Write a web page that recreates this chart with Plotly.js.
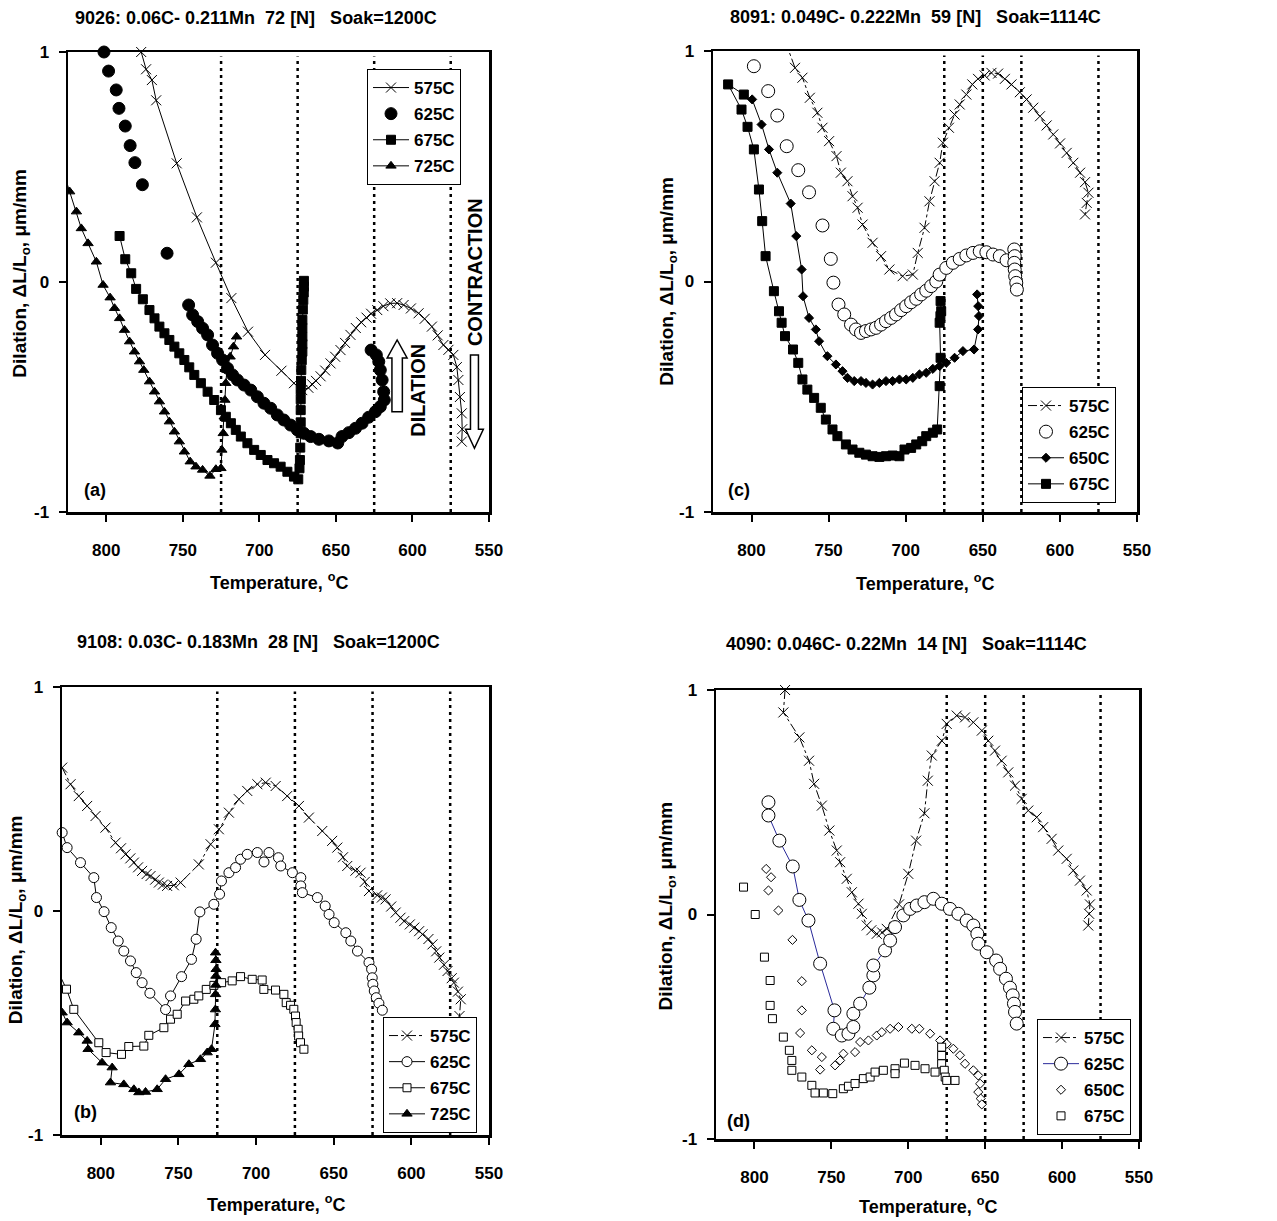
<!DOCTYPE html>
<html>
<head>
<meta charset="utf-8">
<script src="https://cdn.plot.ly/plotly-3.0.1.min.js"></script>
<style>html,body{margin:0;padding:0;background:#fff}#chart{width:1277px;height:1221px}</style>
</head>
<body>
<div id="chart"></div>
<script>
// ---------------- DATA: [temperature (C), dilation (um/mm)] ----------------
const X_TICKS = [800, 750, 700, 650, 600, 550];
const Y_TICKS = [-1, 0, 1];
const Y_TICKTEXT = ['-1', '0', '1'];

const TITLES = {
  a: '9026: 0.06C- 0.211Mn  72 [N]   Soak=1200C',
  c: '8091: 0.049C- 0.222Mn  59 [N]   Soak=1114C',
  b: '9108: 0.03C- 0.183Mn  28 [N]   Soak=1200C',
  d: '4090: 0.046C- 0.22Mn  14 [N]   Soak=1114C'
};
const TEMPS_AB = [725, 675, 625, 575];
const TEMPS_CD = [675, 650, 625, 575];

// Panel (a)
const A575 = [[777.2,1.0],[774,0.925],[770.2,0.878],[767.4,0.79],[754,0.516],[740.8,0.281],[728.4,0.084],[718.3,-0.07],[707.4,-0.216],[696.3,-0.317],[685.6,-0.386],[677.4,-0.44],[672,-0.47],[668,-0.46],[665.5,-0.445],[663,-0.43],[660,-0.41],[657,-0.385],[653.5,-0.354],[650.5,-0.325],[647,-0.296],[644,-0.265],[640.5,-0.23],[637,-0.2],[633.5,-0.175],[630,-0.155],[627,-0.138],[623,-0.122],[619,-0.105],[614.5,-0.093],[610,-0.092],[605.8,-0.1],[601,-0.115],[596,-0.136],[592,-0.16],[587.3,-0.194],[583.5,-0.232],[579.8,-0.274],[576.5,-0.295],[573.3,-0.317],[571,-0.37],[570,-0.426],[569,-0.5],[567.8,-0.571],[567.5,-0.64],[567.8,-0.694]];
const A625 = [[801.5,1.0],[798.5,0.917],[793.5,0.835],[791.7,0.755],[787.6,0.678],[784.4,0.593],[781.3,0.519],[776.4,0.423],[760.3,0.125],[746.2,-0.1],[743.6,-0.143],[740.3,-0.172],[737.1,-0.201],[733.8,-0.23],[730.6,-0.274],[727.3,-0.31],[724,-0.339],[720.8,-0.375],[717.5,-0.404],[714.3,-0.426],[710,-0.448],[705.6,-0.47],[701.3,-0.499],[697,-0.527],[692.6,-0.549],[688.3,-0.578],[684,-0.6],[679.6,-0.622],[675.2,-0.643],[670.9,-0.658],[666.5,-0.672],[661.1,-0.684],[654.6,-0.691],[648.8,-0.70],[646,-0.672],[641.6,-0.655],[637.2,-0.636],[632.9,-0.614],[628.6,-0.588],[624.2,-0.564],[621,-0.542],[618.4,-0.513],[618.8,-0.477],[619.8,-0.426],[621,-0.383],[622,-0.346],[623.6,-0.317],[627,-0.296]];
const A675 = [[791.3,0.2],[787.6,0.099],[783.7,0.038],[780.5,-0.03],[776.1,-0.075],[771.8,-0.122],[768.5,-0.158],[765.3,-0.194],[762,-0.223],[758.8,-0.252],[755.5,-0.281],[752.3,-0.31],[749,-0.339],[745.8,-0.371],[742.5,-0.404],[738.2,-0.44],[733.8,-0.477],[729.5,-0.513],[725.1,-0.557],[721.9,-0.586],[718.6,-0.614],[715.4,-0.643],[712.1,-0.672],[707.8,-0.701],[703.4,-0.73],[699.1,-0.752],[694.7,-0.774],[690.4,-0.788],[686.1,-0.803],[681.7,-0.825],[677.4,-0.846],[674.6,-0.858],[673.8,-0.81],[673.5,-0.774],[673.3,-0.72],[673,-0.658],[673,-0.61],[673,-0.557],[673,-0.51],[673,-0.47],[672.8,-0.43],[672.6,-0.383],[672.3,-0.34],[671.9,-0.303],[671.9,-0.27],[671.9,-0.238],[671.9,-0.2],[671.9,-0.165],[671.6,-0.12],[671.3,-0.078],[671,-0.045],[670.9,-0.02],[670.9,0.005]];
const A725 = [[830,0.52],[823.9,0.393],[819.5,0.306],[816.3,0.233],[811.9,0.168],[806.5,0.088],[802.1,-0.013],[797.5,-0.068],[794.6,-0.114],[791.3,-0.158],[788.1,-0.209],[784.8,-0.259],[781.6,-0.303],[778.3,-0.346],[775.5,-0.383],[771.8,-0.433],[768.5,-0.477],[765.3,-0.52],[762,-0.564],[758.8,-0.607],[755.5,-0.651],[752.3,-0.694],[749,-0.738],[745.2,-0.781],[741.4,-0.803],[737.1,-0.817],[732.3,-0.843],[728.4,-0.814],[725.1,-0.81],[724.5,-0.73],[723.6,-0.658],[723,-0.586],[722.5,-0.513],[721.9,-0.44],[721.2,-0.383],[719.1,-0.325],[716.9,-0.281],[714.9,-0.238]];

// Panel (c)
const C575 = [[778,1.04],[771.8,0.927],[767,0.884],[762.2,0.797],[757.3,0.732],[754,0.667],[749.7,0.609],[744.9,0.544],[742.1,0.472],[737.8,0.435],[734.5,0.37],[731.2,0.32],[728,0.247],[721.5,0.168],[716,0.11],[710.6,0.052],[702,0.023],[695.4,0.03],[692.2,0.124],[687.8,0.233],[684.6,0.348],[681.3,0.435],[678,0.515],[675.9,0.602],[672,0.667],[668.3,0.724],[665,0.768],[660.7,0.811],[656.8,0.855],[653.1,0.879],[648.8,0.894],[644.4,0.905],[640.1,0.902],[635.7,0.879],[631.4,0.855],[626,0.821],[621.6,0.79],[617.3,0.754],[612.9,0.717],[608.6,0.677],[604.3,0.638],[599.9,0.599],[595.6,0.558],[591.3,0.515],[586.9,0.472],[583.7,0.431],[581.5,0.385],[582.6,0.341],[583.7,0.291]];
const C625 = [[798.5,0.934],[789.2,0.826],[783.3,0.72],[777.2,0.587],[769.7,0.483],[762.7,0.387],[754,0.243],[748.6,0.098],[746.9,-0.005],[743.6,-0.1],[739.9,-0.143],[735.5,-0.187],[732.3,-0.208],[729,-0.223],[725.8,-0.215],[722.5,-0.208],[719.3,-0.201],[716,-0.187],[712.8,-0.172],[709.5,-0.158],[706.3,-0.143],[703,-0.124],[699.7,-0.107],[696.5,-0.09],[693.2,-0.075],[690,-0.056],[686.7,-0.04],[683.5,-0.02],[680.2,0.0],[678,0.03],[673.7,0.059],[669.4,0.081],[665,0.098],[660.7,0.113],[656.4,0.124],[652,0.131],[647.7,0.127],[643.4,0.117],[639,0.11],[634.6,0.092],[629.6,0.139],[629.3,0.11],[629.6,0.081],[629.3,0.052],[629,0.023],[628.3,-0.006],[627.9,-0.035]];
const C650 = [[799.6,0.79],[793.5,0.681],[788.7,0.573],[783.3,0.472],[774.6,0.338],[771,0.197],[767.5,0.052],[766.6,-0.064],[762.7,-0.158],[758.3,-0.208],[756.2,-0.259],[750.8,-0.324],[745.3,-0.36],[741,-0.389],[737.8,-0.418],[733.4,-0.432],[729,-0.432],[725.8,-0.44],[721.5,-0.447],[717.1,-0.44],[712.8,-0.432],[708.5,-0.432],[704.1,-0.425],[699.7,-0.425],[695.4,-0.418],[691.1,-0.403],[686.7,-0.396],[682.4,-0.379],[678,-0.367],[673.7,-0.353],[668.3,-0.331],[662.9,-0.302],[655.7,-0.295],[653.1,-0.208],[652.5,-0.15],[653,-0.107],[653.7,-0.056]];
const C675 = [[805,0.811],[815.2,0.855],[806.5,0.746],[802.6,0.671],[798.5,0.573],[795.2,0.399],[793.1,0.262],[790.9,0.11],[785.5,-0.042],[782.2,-0.129],[780.5,-0.179],[778.3,-0.237],[773.1,-0.295],[769.7,-0.353],[767,-0.425],[763.8,-0.469],[759.4,-0.505],[755.1,-0.548],[751.8,-0.599],[747.5,-0.642],[744.3,-0.671],[738.8,-0.707],[734.5,-0.729],[730.1,-0.743],[725.8,-0.751],[721.5,-0.758],[717.1,-0.761],[712.8,-0.758],[708.5,-0.755],[704.1,-0.758],[700.8,-0.729],[696.5,-0.722],[693.2,-0.707],[689.3,-0.693],[686.7,-0.671],[682.4,-0.656],[679.6,-0.642],[678,-0.454],[677.4,-0.331],[678,-0.179],[677.5,-0.15],[677,-0.129],[677.4,-0.085]];

// Panel (b)
const B575 = [[828,0.72],[824.9,0.64],[819.5,0.566],[814.2,0.513],[808.8,0.469],[803.4,0.424],[797,0.372],[790.5,0.305],[787,0.28],[784.1,0.253],[781,0.235],[778.7,0.216],[776,0.195],[773.4,0.179],[770.5,0.165],[768,0.156],[765,0.14],[762.6,0.127],[760,0.118],[757.3,0.112],[753,0.115],[748.6,0.127],[736.9,0.208],[729.3,0.298],[724,0.365],[717.5,0.439],[711.1,0.499],[705.7,0.536],[699.2,0.566],[693.8,0.573],[687.4,0.558],[680,0.513],[672.4,0.469],[666,0.417],[657.4,0.357],[651,0.313],[647.7,0.283],[644,0.24],[641.3,0.201],[636,0.18],[632.7,0.171],[630,0.13],[627.3,0.089],[622,0.07],[619,0.06],[616.6,0.052],[613,0.02],[610.1,-0.007],[607,-0.03],[604.6,-0.045],[601,-0.06],[598.1,-0.074],[595,-0.09],[592.8,-0.104],[589,-0.125],[586.4,-0.149],[584,-0.18],[582,-0.208],[579,-0.24],[576.7,-0.268],[574,-0.3],[572.6,-0.32],[570,-0.36],[568.2,-0.394],[569,-0.469]];
const B625 = [[824.9,0.35],[821.7,0.283],[813.1,0.216],[804.5,0.149],[802.8,0.06],[797.9,-0.003],[793.3,-0.074],[788.8,-0.134],[785.2,-0.179],[780.9,-0.223],[777.2,-0.275],[773.4,-0.32],[768.4,-0.367],[758.3,-0.44],[755.1,-0.379],[748,-0.293],[741.6,-0.216],[738.6,-0.126],[736.2,-0.004],[727.2,0.03],[723.5,0.075],[722.3,0.134],[717.5,0.171],[713.2,0.194],[710,0.231],[705.7,0.253],[699.2,0.261],[694.9,0.219],[691.7,0.261],[685.6,0.238],[684.1,0.201],[676.6,0.171],[671.2,0.149],[671.2,0.112],[670.2,0.082],[660.5,0.06],[655.5,0.022],[653,-0.015],[649.7,-0.052],[642.2,-0.097],[639,-0.134],[634.7,-0.179],[627.3,-0.23],[625.6,-0.26],[625.2,-0.298],[624.8,-0.327],[623.9,-0.357],[622.6,-0.387],[620.9,-0.412],[618.7,-0.443]];
const B675 = [[829,-0.25],[822.1,-0.349],[817.4,-0.439],[801.3,-0.588],[796.6,-0.632],[786.7,-0.64],[782,-0.605],[772.3,-0.603],[769.1,-0.555],[759.4,-0.521],[755.1,-0.483],[750.8,-0.461],[745.4,-0.402],[740.1,-0.394],[736.9,-0.379],[732.1,-0.35],[727.2,-0.332],[722.2,-0.32],[715.4,-0.312],[710,-0.293],[702.5,-0.305],[696.1,-0.308],[695,-0.35],[687.5,-0.353],[682.1,-0.372],[680.6,-0.409],[677.8,-0.421],[675.7,-0.439],[674.6,-0.469],[674.2,-0.498],[672.9,-0.528],[672.6,-0.558],[671.4,-0.588],[669.2,-0.617]];
const B725 = [[826.9,-0.424],[824.9,-0.454],[821.7,-0.498],[814.2,-0.543],[808.8,-0.58],[808.2,-0.617],[799.2,-0.677],[792.7,-0.699],[793.8,-0.766],[785.2,-0.774],[778.7,-0.796],[775.5,-0.81],[771.2,-0.808],[763.7,-0.796],[758.3,-0.751],[749.7,-0.729],[743.3,-0.684],[735.8,-0.662],[731.5,-0.632],[728.7,-0.617],[726.5,-0.506],[726.2,-0.44],[726.1,-0.372],[726,-0.33],[725.9,-0.29],[725.7,-0.26],[725.9,-0.22],[726.1,-0.186]];

// Panel (d)
const D575 = [[780.1,1.0],[781.2,0.9],[770.8,0.789],[764.5,0.685],[761.2,0.582],[756.2,0.485],[751.3,0.374],[746.5,0.285],[744.3,0.233],[740,0.159],[736.7,0.099],[732.4,0.048],[730.2,0.003],[727,-0.049],[724,-0.07],[720.5,-0.086],[717,-0.08],[714,-0.064],[706,0.045],[700,0.181],[694.9,0.329],[689.5,0.451],[687.3,0.596],[684.7,0.708],[678.2,0.774],[675,0.849],[668.5,0.886],[663.1,0.878],[657.7,0.856],[652.2,0.819],[648,0.774],[643.6,0.73],[639.3,0.685],[635,0.633],[630.6,0.574],[626.3,0.515],[622,0.463],[616.5,0.433],[612.3,0.389],[606.8,0.337],[602.5,0.285],[597,0.248],[592.7,0.196],[588.4,0.151],[584,0.107],[581.9,0.045],[582.4,0.003],[583,-0.049]];
const D625 = [[790.9,0.5],[790.9,0.441],[783.8,0.329],[775.1,0.214],[770.8,0.065],[764.9,-0.027],[757.3,-0.219],[748,-0.427],[748.7,-0.509],[743.2,-0.539],[738.9,-0.531],[735.7,-0.501],[735.7,-0.442],[731.3,-0.397],[725.3,-0.326],[722.7,-0.271],[722.7,-0.227],[715.1,-0.16],[711.8,-0.116],[708.6,-0.056],[703.2,-0.004],[698.8,0.025],[694.5,0.04],[689.5,0.055],[683.7,0.07],[678.2,0.048],[672.9,0.025],[667.4,0.003],[662,-0.027],[657.7,-0.049],[655.1,-0.086],[654.4,-0.13],[649,-0.168],[642.9,-0.205],[640.3,-0.242],[636.5,-0.286],[633.9,-0.326],[632.1,-0.36],[631.3,-0.397],[630.6,-0.434],[629.5,-0.486]];
const D650 = [[792.4,0.203],[789.2,0.166],[790.9,0.107],[784.4,0.018],[775.3,-0.113],[769.2,-0.297],[769.2,-0.427],[770.3,-0.528],[762.7,-0.605],[756.2,-0.635],[757.3,-0.691],[747.6,-0.672],[744.3,-0.65],[742.2,-0.62],[734.6,-0.613],[731.3,-0.568],[725.9,-0.561],[720.5,-0.539],[717.2,-0.524],[711.8,-0.509],[706.4,-0.501],[697.7,-0.509],[692.8,-0.509],[685.8,-0.531],[679.3,-0.561],[675,-0.576],[670.7,-0.598],[666.4,-0.627],[663.1,-0.665],[657.7,-0.694],[654.5,-0.717],[653.3,-0.754],[654.5,-0.791],[652.9,-0.82],[652.2,-0.846]];
const D675 = [[807.1,0.122],[799.5,0.0],[793.5,-0.19],[789.8,-0.294],[789.8,-0.405],[788.3,-0.464],[781.2,-0.546],[777.3,-0.605],[775.7,-0.65],[775.7,-0.694],[769.2,-0.724],[762.7,-0.761],[760.6,-0.795],[755.2,-0.795],[749.1,-0.798],[742.2,-0.776],[738.9,-0.765],[734.6,-0.753],[729.2,-0.731],[724.8,-0.724],[721.6,-0.702],[716.2,-0.694],[708.6,-0.687],[708.6,-0.709],[702.5,-0.662],[695.6,-0.672],[689.1,-0.687],[682.6,-0.702],[678.3,-0.591],[678.3,-0.628],[678.3,-0.665],[676.6,-0.694],[676,-0.724],[675,-0.739],[669.6,-0.739]];

// ---------------- STYLE / LAYOUT ----------------
const FONT = 'Liberation Sans, Arial, Helvetica, sans-serif';
const W = 1277, H = 1221;
// plot boxes in pixels: panel -> [left, top, right, bottom]
const BOX = { a:[68,52,489,512], c:[713,51,1137,512], b:[62,687,489,1135], d:[716,690,1139,1139] };
const AXID = { a:'', c:'2', b:'3', d:'4' };
const LEGID = { a:'legend', c:'legend2', b:'legend3', d:'legend4' };

function trace(panel, name, pts, sym, size, filled, lineOpt, clip) {
  const isX = sym.indexOf('x-thin') === 0;
  const t = {
    type:'scatter', name:name, legendgroup: panel + name,
    x: pts.map(p => p[0]), y: pts.map(p => p[1]),
    xaxis:'x'+AXID[panel], yaxis:'y'+AXID[panel], legend: LEGID[panel],
    mode: lineOpt ? 'lines+markers' : 'markers',
    cliponaxis: clip,
    marker:{ symbol:sym, size:size, color: (filled || isX) ? '#000' : '#fff', line:{color:'#000', width:1} }
  };
  if (lineOpt) t.line = lineOpt;
  return t;
}
const thin = {color:'#000', width:1};
const thinDash = {color:'#000', width:1, dash:'dashdot'};

const data = [
  trace('a','575C',A575,'x-thin-open',10,true,thin,false),
  trace('a','625C',A625,'circle',12,true,null,false),
  trace('a','675C',A675,'square',9,true,thin,false),
  trace('a','725C',A725,'triangle-up',9,true,thin,true),

  trace('c','575C',C575,'x-thin-open',10,true,thinDash,true),
  trace('c','625C',C625,'circle',13,false,null,false),
  trace('c','650C',C650,'diamond',7,true,thin,false),
  trace('c','675C',C675,'square',9,true,thin,false),

  trace('b','575C',B575,'x-thin-open',10,true,thinDash,true),
  trace('b','625C',B625,'circle',10,false,thin,false),
  trace('b','675C',B675,'square',8,false,thin,true),
  trace('b','725C',B725,'triangle-up',9,true,thin,true),

  trace('d','575C',D575,'x-thin-open',10,true,thinDash,false),
  trace('d','625C',D625,'circle',13,false,{color:'#2a2a9a', width:1},false),
  trace('d','650C',D650,'diamond',7,false,null,false),
  trace('d','675C',D675,'square',8,false,null,false)
];

const tickFont = {family:FONT, size:17, color:'#000', weight:'bold'};
function xAxis(panel) {
  const b = BOX[panel];
  return { domain:[b[0]/W, b[2]/W], anchor:'y'+AXID[panel], range:[825,550], tickvals:X_TICKS,
    ticks:'outside', ticklen:7, tickwidth:2, tickcolor:'#000', showline:true, linewidth:2.5, linecolor:'#000',
    mirror:true, showgrid:false, zeroline:false, tickfont:tickFont, ticklabelstandoff:14, fixedrange:true };
}
function yAxis(panel) {
  const b = BOX[panel];
  return { domain:[1-b[3]/H, 1-b[1]/H], anchor:'x'+AXID[panel], range:[-1,1], tickvals:Y_TICKS, ticktext:Y_TICKTEXT,
    ticks:'outside', ticklen:7, tickwidth:2, tickcolor:'#000', showline:true, linewidth:2.5, linecolor:'#000',
    mirror:true, showgrid:false, zeroline:false, tickfont:tickFont, ticklabelstandoff:6, fixedrange:true };
}
function legend(xpx, ypx, anchor) {
  return { x:xpx/W, y:1-ypx/H, xanchor:'left', yanchor:anchor, bgcolor:'#fff', bordercolor:'#000', borderwidth:1,
    font:{family:FONT, size:17, color:'#000', weight:'bold'}, itemwidth:36, traceorder:'grouped', tracegroupgap:1 };
}

// vertical dotted reference lines at the isothermal hold temperatures
const shapes = [];
function vlines(panel, temps) {
  temps.forEach(T => shapes.push({ type:'line', xref:'x'+AXID[panel], yref:'y'+AXID[panel]+' domain',
    x0:T, x1:T, y0:0, y1:0.99, layer:'below', line:{color:'#000', width:2.5, dash:'3px,4px'} }));
}
vlines('a', TEMPS_AB); vlines('b', TEMPS_AB); vlines('c', TEMPS_CD); vlines('d', TEMPS_CD);

// hollow block arrows in panel (a)
function arrowPath(xc, yTail, yBase, yTip, hw, hh) {
  return 'M'+(xc-hw)+','+yTail+' L'+(xc-hw)+','+yBase+' L'+(xc-hh)+','+yBase+' L'+xc+','+yTip+
         ' L'+(xc+hh)+','+yBase+' L'+(xc+hw)+','+yBase+' L'+(xc+hw)+','+yTail+' Z';
}
shapes.push({ type:'path', xref:'x', yref:'y', path: arrowPath(610, -0.564, -0.33, -0.252, 3.4, 6.5),
  fillcolor:'#fff', line:{color:'#000', width:1.5} });
shapes.push({ type:'path', xref:'x', yref:'y', path: arrowPath(559.5, -0.317, -0.64, -0.723, 2.6, 5.8),
  fillcolor:'#fff', line:{color:'#000', width:1.5} });

const nb = s => s.replace(/ /g, '\u00a0');
const annotations = [];
function panelText(panel, titleText, tx, ty, lab, lx, ly, xt, yt) {
  const id = AXID[panel];
  annotations.push({ text:'<b>'+nb(titleText)+'</b>', xref:'paper', yref:'paper', x:tx/W, y:1-ty/H,
    showarrow:false, xanchor:'center', yanchor:'middle', font:{family:FONT, size:18, color:'#000'} });
  annotations.push({ text:'<b>'+lab+'</b>', xref:'x'+id+' domain', yref:'y'+id+' domain', x:lx, y:ly,
    showarrow:false, xanchor:'center', yanchor:'middle', font:{family:FONT, size:18, color:'#000'} });
  annotations.push({ text:'<b>Temperature, <sup>o</sup>C</b>', xref:'x'+id+' domain', yref:'y'+id+' domain', x:0.5, y:xt,
    showarrow:false, xanchor:'center', yanchor:'middle', font:{family:FONT, size:18, color:'#000'} });
  annotations.push({ text:'<b>Dilation, \u0394L/L<sub>o</sub>, \u03bcm/mm</b>', xref:'x'+id+' domain', yref:'y'+id+' domain',
    x:yt[0], y:yt[1], textangle:-90, showarrow:false, xanchor:'center', yanchor:'middle',
    font:{family:FONT, size:19, color:'#000'} });
}
panelText('a', TITLES.a, 256, 18, '(a)', 0.064, 0.048, -0.152, [-0.112, 0.52]);
panelText('c', TITLES.c, 915, 17, '(c)', 0.062, 0.048, -0.152, [-0.108, 0.50]);
panelText('b', TITLES.b, 258, 642, '(b)', 0.056, 0.052, -0.153, [-0.105, 0.48]);
panelText('d', TITLES.d, 906, 644, '(d)', 0.054, 0.039, -0.147, [-0.116, 0.52]);

annotations.push({ text:'<b>DILATION</b>', xref:'x', yref:'y', x:596, y:-0.47, textangle:-90, showarrow:false,
  xanchor:'center', yanchor:'middle', font:{family:FONT, size:20, color:'#000'} });
annotations.push({ text:'<b>CONTRACTION</b>', xref:'x', yref:'y', x:559.5, y:0.045, textangle:-90, showarrow:false,
  xanchor:'center', yanchor:'middle', font:{family:FONT, size:20, color:'#000'} });

const layout = {
  width:W, height:H, margin:{l:0, r:0, t:0, b:0}, paper_bgcolor:'#fff', plot_bgcolor:'#fff',
  font:{family:FONT, color:'#000'}, showlegend:true,
  xaxis:xAxis('a'), yaxis:yAxis('a'),
  xaxis2:xAxis('c'), yaxis2:yAxis('c'),
  xaxis3:xAxis('b'), yaxis3:yAxis('b'),
  xaxis4:xAxis('d'), yaxis4:yAxis('d'),
  legend:legend(367, 69, 'top'), legend2:legend(1022, 503, 'bottom'),
  legend3:legend(383, 1133, 'bottom'), legend4:legend(1037, 1135, 'bottom'),
  shapes:shapes, annotations:annotations
};
Plotly.newPlot('chart', data, layout, {displayModeBar:false, staticPlot:true});
</script>
</body>
</html>
